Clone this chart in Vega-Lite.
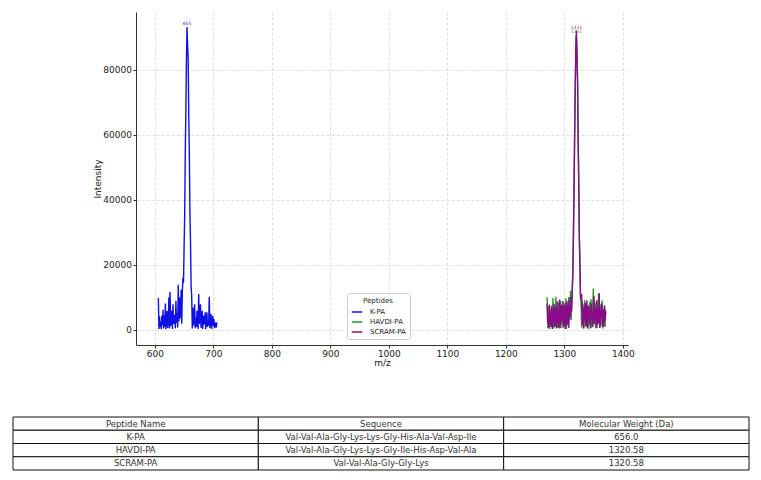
{
  "$schema": "https://vega.github.io/schema/vega-lite/v6.json",
  "background": "white",
  "padding": {"left": 12, "top": 12, "right": 5, "bottom": 5},
  "config": {
    "view": {"stroke": null},
    "font": "DejaVu Sans",
    "axis": {
      "labelFont": "DejaVu Sans",
      "titleFont": "DejaVu Sans",
      "labelFontSize": 9,
      "titleFontSize": 9,
      "titleFontWeight": "normal",
      "labelColor": "#222222",
      "titleColor": "#222222",
      "domainColor": "#333333",
      "tickColor": "#333333",
      "tickSize": 3,
      "labelPadding": 1.5,
      "titlePadding": 0,
      "gridColor": "#d6d6d6",
      "gridDash": [3, 2],
      "gridWidth": 0.8
    }
  },
  "datasets": {
    "kpa": [
      {"mz":606,"i":9800},{"mz":607,"i":300},{"mz":608,"i":4200},{"mz":609,"i":800},{"mz":610,"i":2600},
      {"mz":611,"i":200},{"mz":612,"i":4300},{"mz":613,"i":1500},{"mz":614,"i":6200},{"mz":615,"i":400},
      {"mz":616,"i":4600},{"mz":617,"i":900},{"mz":618,"i":8100},{"mz":619,"i":200},{"mz":620,"i":3300},
      {"mz":621,"i":5800},{"mz":622,"i":600},{"mz":623,"i":2900},{"mz":624,"i":10000},{"mz":625,"i":400},
      {"mz":626,"i":11700},{"mz":627,"i":1200},{"mz":628,"i":3700},{"mz":629,"i":5900},{"mz":630,"i":300},
      {"mz":631,"i":7900},{"mz":632,"i":1800},{"mz":633,"i":3100},{"mz":634,"i":4600},{"mz":635,"i":500},
      {"mz":636,"i":8900},{"mz":637,"i":2200},{"mz":638,"i":5100},{"mz":639,"i":700},{"mz":640,"i":13900},
      {"mz":641,"i":2600},{"mz":642,"i":10000},{"mz":643,"i":3400},{"mz":644,"i":6200},{"mz":645,"i":12300},
      {"mz":646,"i":1900},{"mz":647,"i":11500},
      {"mz":648,"i":16000},{"mz":649,"i":14500},{"mz":650,"i":25200},{"mz":651,"i":35100},{"mz":652,"i":54100},
      {"mz":653,"i":66500},{"mz":654,"i":82300},{"mz":655,"i":93000},{"mz":656,"i":87500},{"mz":657,"i":83500},
      {"mz":658,"i":65900},{"mz":659,"i":53500},{"mz":660,"i":35800},{"mz":661,"i":26900},{"mz":662,"i":13300},
      {"mz":663,"i":10500},
      {"mz":664,"i":400},{"mz":665,"i":6900},{"mz":666,"i":1300},{"mz":667,"i":3800},{"mz":668,"i":7900},
      {"mz":669,"i":500},{"mz":670,"i":3600},{"mz":671,"i":900},{"mz":672,"i":5900},{"mz":673,"i":2400},
      {"mz":674,"i":300},{"mz":675,"i":11000},{"mz":676,"i":1800},{"mz":677,"i":4100},{"mz":678,"i":7900},
      {"mz":679,"i":600},{"mz":680,"i":2700},{"mz":681,"i":5900},{"mz":682,"i":300},{"mz":683,"i":4300},
      {"mz":684,"i":1600},{"mz":685,"i":2900},{"mz":686,"i":5400},{"mz":687,"i":200},{"mz":688,"i":3600},
      {"mz":689,"i":5400},{"mz":690,"i":900},{"mz":691,"i":2800},{"mz":692,"i":1400},{"mz":693,"i":10200},
      {"mz":694,"i":600},{"mz":695,"i":3900},{"mz":696,"i":4900},{"mz":697,"i":300},{"mz":698,"i":2500},
      {"mz":699,"i":4300},{"mz":700,"i":1100},{"mz":701,"i":3300},{"mz":702,"i":500},{"mz":703,"i":2300},
      {"mz":704,"i":1700},{"mz":705,"i":700},{"mz":706,"i":2300}
    ],
    "havdi": [
      {"mz":1270.6,"i":10000},{"mz":1271.6,"i":600},{"mz":1272.6,"i":5200},{"mz":1273.6,"i":7400},{"mz":1274.6,"i":300},
      {"mz":1275.6,"i":4800},{"mz":1276.6,"i":1900},{"mz":1277.6,"i":6400},{"mz":1278.6,"i":800},{"mz":1279.6,"i":3700},
      {"mz":1280.6,"i":9800},{"mz":1281.6,"i":400},{"mz":1282.6,"i":4600},{"mz":1283.6,"i":7200},{"mz":1284.6,"i":1300},
      {"mz":1285.6,"i":10200},{"mz":1286.6,"i":2700},{"mz":1287.6,"i":5300},{"mz":1288.6,"i":600},{"mz":1289.6,"i":8400},
      {"mz":1290.6,"i":3100},{"mz":1291.6,"i":400},{"mz":1292.6,"i":6900},{"mz":1293.6,"i":9000},{"mz":1294.6,"i":1600},
      {"mz":1295.6,"i":4200},{"mz":1296.6,"i":7100},{"mz":1297.6,"i":500},{"mz":1298.6,"i":3900},{"mz":1299.6,"i":8200},
      {"mz":1300.6,"i":1200},{"mz":1301.6,"i":5600},{"mz":1302.6,"i":9600},{"mz":1303.6,"i":300},{"mz":1304.6,"i":4700},
      {"mz":1305.6,"i":7600},{"mz":1306.6,"i":1800},{"mz":1307.6,"i":10100},{"mz":1308.6,"i":2900},{"mz":1309.6,"i":6000},
      {"mz":1310.6,"i":12000},{"mz":1311.6,"i":3000},
      {"mz":1312.6,"i":9550},{"mz":1313.6,"i":10300},{"mz":1314.6,"i":19500},{"mz":1315.6,"i":28000},{"mz":1316.6,"i":45500},
      {"mz":1317.6,"i":58400},{"mz":1318.6,"i":75200},{"mz":1319.6,"i":83000},{"mz":1320.6,"i":90500},{"mz":1321.6,"i":84300},
      {"mz":1322.6,"i":76800},{"mz":1323.6,"i":57700},{"mz":1324.6,"i":44400},{"mz":1325.6,"i":28900},{"mz":1326.6,"i":20900},
      {"mz":1327.6,"i":9700},{"mz":1328.6,"i":8350},
      {"mz":1329.6,"i":700},{"mz":1330.6,"i":8900},{"mz":1331.6,"i":3400},{"mz":1332.6,"i":5800},{"mz":1333.6,"i":400},
      {"mz":1334.6,"i":9100},{"mz":1335.6,"i":2100},{"mz":1336.6,"i":6300},{"mz":1337.6,"i":900},{"mz":1338.6,"i":4800},
      {"mz":1339.6,"i":7700},{"mz":1340.6,"i":300},{"mz":1341.6,"i":5500},{"mz":1342.6,"i":1600},{"mz":1343.6,"i":8600},
      {"mz":1344.6,"i":2400},{"mz":1345.6,"i":9400},{"mz":1346.6,"i":700},{"mz":1347.6,"i":4100},{"mz":1348.6,"i":6800},
      {"mz":1349.6,"i":12700},{"mz":1350.6,"i":1900},{"mz":1351.6,"i":8200},{"mz":1352.6,"i":3300},{"mz":1353.6,"i":500},
      {"mz":1354.6,"i":6900},{"mz":1355.6,"i":9200},{"mz":1356.6,"i":1400},{"mz":1357.6,"i":4500},{"mz":1358.6,"i":11000},
      {"mz":1359.6,"i":2600},{"mz":1360.6,"i":5200},{"mz":1361.6,"i":800},{"mz":1362.6,"i":7800},{"mz":1363.6,"i":3600},
      {"mz":1364.6,"i":9000},{"mz":1365.6,"i":400},{"mz":1366.6,"i":5900},{"mz":1367.6,"i":2200},{"mz":1368.6,"i":7400},
      {"mz":1369.6,"i":1000},{"mz":1370.6,"i":6100}
    ],
    "scram": [
      {"mz":1270.6,"i":8100},{"mz":1271.6,"i":2000},{"mz":1272.6,"i":4500},{"mz":1273.6,"i":500},{"mz":1274.6,"i":7800},
      {"mz":1275.6,"i":3200},{"mz":1276.6,"i":900},{"mz":1277.6,"i":5100},{"mz":1278.6,"i":7400},{"mz":1279.6,"i":300},
      {"mz":1280.6,"i":6100},{"mz":1281.6,"i":2500},{"mz":1282.6,"i":8000},{"mz":1283.6,"i":900},{"mz":1284.6,"i":4300},
      {"mz":1285.6,"i":7000},{"mz":1286.6,"i":400},{"mz":1287.6,"i":8800},{"mz":1288.6,"i":2200},{"mz":1289.6,"i":5600},
      {"mz":1290.6,"i":700},{"mz":1291.6,"i":9300},{"mz":1292.6,"i":3500},{"mz":1293.6,"i":600},{"mz":1294.6,"i":7700},
      {"mz":1295.6,"i":2800},{"mz":1296.6,"i":5400},{"mz":1297.6,"i":8900},{"mz":1298.6,"i":1000},{"mz":1299.6,"i":4400},
      {"mz":1300.6,"i":7500},{"mz":1301.6,"i":300},{"mz":1302.6,"i":6400},{"mz":1303.6,"i":8600},{"mz":1304.6,"i":1400},
      {"mz":1305.6,"i":5000},{"mz":1306.6,"i":9000},{"mz":1307.6,"i":600},{"mz":1308.6,"i":7300},{"mz":1309.6,"i":3800},
      {"mz":1310.6,"i":10000},{"mz":1311.6,"i":5500},
      {"mz":1312.6,"i":6100},{"mz":1313.6,"i":13400},{"mz":1314.6,"i":17700},{"mz":1315.6,"i":31600},{"mz":1316.6,"i":42600},
      {"mz":1317.6,"i":61200},{"mz":1318.6,"i":73800},{"mz":1319.6,"i":87700},{"mz":1320.6,"i":92000},{"mz":1321.6,"i":84400},
      {"mz":1322.6,"i":76500},{"mz":1323.6,"i":59100},{"mz":1324.6,"i":46600},{"mz":1325.6,"i":28100},{"mz":1326.6,"i":20300},
      {"mz":1327.6,"i":10300},{"mz":1328.6,"i":9440},
      {"mz":1329.6,"i":11000},{"mz":1330.6,"i":1500},{"mz":1331.6,"i":7900},{"mz":1332.6,"i":400},{"mz":1333.6,"i":6700},
      {"mz":1334.6,"i":3100},{"mz":1335.6,"i":8400},{"mz":1336.6,"i":1100},{"mz":1337.6,"i":5600},{"mz":1338.6,"i":9100},
      {"mz":1339.6,"i":600},{"mz":1340.6,"i":4900},{"mz":1341.6,"i":7400},{"mz":1342.6,"i":2300},{"mz":1343.6,"i":6100},
      {"mz":1344.6,"i":400},{"mz":1345.6,"i":8200},{"mz":1346.6,"i":3800},{"mz":1347.6,"i":5300},{"mz":1348.6,"i":900},
      {"mz":1349.6,"i":7600},{"mz":1350.6,"i":10300},{"mz":1351.6,"i":1700},{"mz":1352.6,"i":6400},{"mz":1353.6,"i":3100},
      {"mz":1354.6,"i":8700},{"mz":1355.6,"i":500},{"mz":1356.6,"i":4600},{"mz":1357.6,"i":7100},{"mz":1358.6,"i":2000},
      {"mz":1359.6,"i":11300},{"mz":1360.6,"i":600},{"mz":1361.6,"i":5800},{"mz":1362.6,"i":3900},{"mz":1363.6,"i":8100},
      {"mz":1364.6,"i":1200},{"mz":1365.6,"i":6500},{"mz":1366.6,"i":4300},{"mz":1367.6,"i":900},{"mz":1368.6,"i":7500},
      {"mz":1369.6,"i":3000},{"mz":1370.6,"i":5600}
    ],
    "table": [
      {"r":0,"c":0,"t":"Peptide Name"},{"r":0,"c":1,"t":"Sequence"},{"r":0,"c":2,"t":"Molecular Weight (Da)"},
      {"r":1,"c":0,"t":"K-PA"},{"r":1,"c":1,"t":"Val-Val-Ala-Gly-Lys-Lys-Gly-His-Ala-Val-Asp-Ile"},{"r":1,"c":2,"t":"656.0"},
      {"r":2,"c":0,"t":"HAVDI-PA"},{"r":2,"c":1,"t":"Val-Val-Ala-Gly-Lys-Lys-Gly-Ile-His-Asp-Val-Ala"},{"r":2,"c":2,"t":"1320.58"},
      {"r":3,"c":0,"t":"SCRAM-PA"},{"r":3,"c":1,"t":"Val-Val-Ala-Gly-Gly-Lys"},{"r":3,"c":2,"t":"1320.58"}
    ]
  },
  "spacing": 48,
  "vconcat": [
    {
      "spacing": 0,
      "hconcat": [
        {
          "width": 80,
          "height": 333,
          "data": {"values": []},
          "mark": "point",
          "encoding": {}
        },
        {
          "width": 492,
          "height": 333,
          "encoding": {
            "x": {
              "field": "mz",
              "type": "quantitative",
              "title": "m/z",
              "scale": {"domain": [567.8, 1408.8], "nice": false, "zero": false},
              "axis": {"values": [600, 700, 800, 900, 1000, 1100, 1200, 1300, 1400], "format": "d", "labelFlush": false}
            },
            "y": {
              "field": "i",
              "type": "quantitative",
              "title": "Intensity",
              "scale": {"domain": [-4650, 97700], "nice": false, "zero": false},
              "axis": {"values": [0, 20000, 40000, 60000, 80000], "format": "d", "labelFlush": false}
            }
          },
          "layer": [
            {
              "data": {"name": "kpa"},
              "mark": {"type": "line", "strokeWidth": 1.4},
              "encoding": {
                "color": {
                  "datum": "K-PA",
                  "type": "nominal",
                  "scale": {"domain": ["K-PA", "HAVDI-PA", "SCRAM-PA"], "range": ["#1010e6", "#1f9a1f", "#8b0a8b"]},
                  "legend": {
                    "title": "Peptides",
                    "orient": "none",
                    "legendX": 334,
                    "legendY": 281,
                    "direction": "vertical",
                    "symbolType": "stroke",
                    "symbolStrokeWidth": 1.5,
                    "symbolSize": 110,
                    "labelFontSize": 7,
                    "titleFontSize": 7,
                    "titleFontWeight": "normal",
                    "titleAnchor": "middle",
                    "labelColor": "#222222",
                    "titleColor": "#222222",
                    "labelOffset": 7,
                    "padding": 4,
                    "rowPadding": 1,
                    "titlePadding": 2,
                    "strokeColor": "#cccccc",
                    "fillColor": "white",
                    "cornerRadius": 2
                  }
                }
              }
            },
            {
              "data": {"name": "havdi"},
              "mark": {"type": "line", "strokeWidth": 1.4},
              "encoding": {"color": {"datum": "HAVDI-PA", "type": "nominal"}}
            },
            {
              "data": {"name": "scram"},
              "mark": {"type": "line", "strokeWidth": 1.4},
              "encoding": {"color": {"datum": "SCRAM-PA", "type": "nominal"}}
            },
            {
              "data": {"values": [{"mz": 655, "i": 93000, "t": "655"}]},
              "mark": {"type": "text", "fontSize": 4.5, "baseline": "bottom", "dy": -1, "color": "#1a1a9a"},
              "encoding": {"text": {"field": "t"}}
            },
            {
              "data": {"values": [{"mz": 1320.6, "i": 90500, "t": "1321"}]},
              "mark": {"type": "text", "fontSize": 4.5, "baseline": "bottom", "dy": -1, "color": "#1f9a1f"},
              "encoding": {"text": {"field": "t"}}
            },
            {
              "data": {"values": [{"mz": 1320.6, "i": 92000, "t": "1321"}]},
              "mark": {"type": "text", "fontSize": 4.5, "baseline": "bottom", "dy": -1, "color": "#8b0a8b"},
              "encoding": {"text": {"field": "t"}}
            }
          ]
        }
      ]
    },
    {
      "width": 736,
      "height": 53,
      "data": {"name": "table"},
      "encoding": {
        "x": {"field": "c", "type": "ordinal", "axis": null, "scale": {"paddingInner": 0, "paddingOuter": 0}},
        "y": {"field": "r", "type": "ordinal", "axis": null, "scale": {"paddingInner": 0, "paddingOuter": 0}}
      },
      "layer": [
        {"mark": {"type": "rect", "fill": "white", "stroke": "#111111", "strokeWidth": 1}},
        {"mark": {"type": "text", "fontSize": 8.5, "color": "#333333"}, "encoding": {"text": {"field": "t"}}}
      ]
    }
  ]
}
